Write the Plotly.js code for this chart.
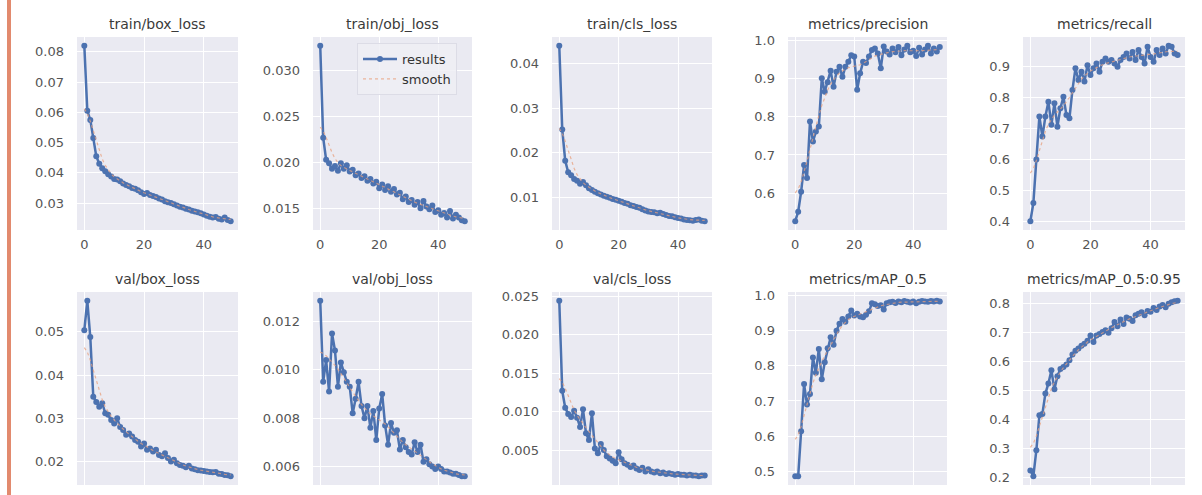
<!DOCTYPE html>
<html>
<head>
<meta charset="utf-8">
<script src="https://cdn.plot.ly/plotly-3.0.1.min.js"></script>
<style>html,body{margin:0;padding:0;background:#fff;}#chart{width:1202px;height:495px;}</style>
</head>
<body>
<div id="chart"></div>
<script>
// ---- data (epochs 0..49) ----
const epochs = Array.from({length: 50}, (_, i) => i);

const titles = ["train/box_loss","train/obj_loss","train/cls_loss","metrics/precision","metrics/recall",
                "val/box_loss","val/obj_loss","val/cls_loss","metrics/mAP_0.5","metrics/mAP_0.5:0.95"];

const trainBox = [0.0820,0.0605,0.0575,0.0515,0.0455,0.0430,0.0415,0.0405,0.0395,0.0388,0.0380,0.0378,0.0372,0.0365,0.0360,0.0356,0.0350,0.0347,0.0342,0.0336,0.0330,0.0333,0.0327,0.0323,0.0320,0.0315,0.0312,0.0306,0.0303,0.0300,0.0296,0.0292,0.0288,0.0285,0.0281,0.0279,0.0275,0.0272,0.0270,0.0266,0.0262,0.0258,0.0255,0.0252,0.0254,0.0248,0.0246,0.0252,0.0244,0.0240];

const trainObj = [0.0327,0.0227,0.0203,0.0199,0.0193,0.0196,0.0191,0.0199,0.0193,0.0197,0.0190,0.0192,0.0186,0.0188,0.0183,0.0185,0.0180,0.0182,0.0177,0.0179,0.0172,0.0176,0.0170,0.0174,0.0168,0.0171,0.0165,0.0167,0.0160,0.0163,0.0157,0.0159,0.0154,0.0157,0.0150,0.0158,0.0152,0.0149,0.0153,0.0146,0.0148,0.0143,0.0145,0.0140,0.0147,0.0139,0.0143,0.0140,0.0137,0.0136];

const trainCls = [0.0440,0.0252,0.0182,0.0156,0.0149,0.0141,0.0137,0.0130,0.0134,0.0127,0.0120,0.0116,0.0112,0.0109,0.0106,0.0103,0.0101,0.0099,0.0096,0.0094,0.0092,0.0090,0.0087,0.0085,0.0082,0.0080,0.0078,0.0076,0.0073,0.0070,0.0068,0.0067,0.0066,0.0064,0.0065,0.0062,0.0060,0.0058,0.0057,0.0055,0.0053,0.0052,0.0050,0.0049,0.0048,0.0047,0.0049,0.0050,0.0047,0.0046];

const precision = [0.527,0.552,0.604,0.674,0.640,0.787,0.735,0.761,0.774,0.900,0.865,0.890,0.920,0.878,0.917,0.930,0.904,0.930,0.943,0.960,0.957,0.870,0.913,0.943,0.940,0.957,0.974,0.978,0.965,0.926,0.983,0.970,0.962,0.978,0.968,0.982,0.960,0.975,0.985,0.968,0.972,0.958,0.980,0.962,0.975,0.985,0.965,0.978,0.970,0.982];

const recall = [0.400,0.459,0.600,0.739,0.674,0.739,0.787,0.712,0.782,0.706,0.766,0.803,0.744,0.733,0.825,0.895,0.857,0.884,0.852,0.905,0.873,0.895,0.911,0.884,0.916,0.927,0.916,0.922,0.911,0.900,0.922,0.932,0.943,0.927,0.948,0.922,0.954,0.932,0.911,0.965,0.932,0.916,0.954,0.938,0.959,0.943,0.968,0.965,0.943,0.938];

const valBox = [0.0504,0.0572,0.0488,0.0350,0.0338,0.0327,0.0335,0.0312,0.0308,0.0296,0.0288,0.0300,0.0280,0.0273,0.0262,0.0265,0.0258,0.0250,0.0246,0.0235,0.0242,0.0227,0.0230,0.0223,0.0227,0.0215,0.0212,0.0219,0.0208,0.0200,0.0204,0.0196,0.0192,0.0190,0.0187,0.0190,0.0184,0.0182,0.0180,0.0179,0.0178,0.0177,0.0176,0.0175,0.0176,0.0172,0.0171,0.0169,0.0168,0.0166];

const valObj = [0.01285,0.0095,0.0104,0.0091,0.0115,0.0108,0.0093,0.0103,0.0099,0.0095,0.0093,0.0082,0.0088,0.0095,0.0085,0.0080,0.0085,0.0076,0.0083,0.0071,0.0084,0.0090,0.0077,0.0069,0.0078,0.0074,0.0075,0.0067,0.0071,0.0068,0.0066,0.0065,0.0070,0.0066,0.0069,0.0062,0.0063,0.0061,0.0060,0.0059,0.0060,0.0059,0.0058,0.0058,0.00575,0.0057,0.0057,0.00565,0.0056,0.0056];

const valCls = [0.0244,0.0127,0.0105,0.0097,0.0093,0.0101,0.0092,0.0080,0.0103,0.0072,0.0063,0.0098,0.0052,0.0046,0.0058,0.0050,0.0042,0.0039,0.0036,0.0033,0.0047,0.0038,0.0033,0.0031,0.0028,0.0030,0.0026,0.0024,0.0027,0.0022,0.0025,0.0022,0.0021,0.0022,0.0020,0.0021,0.0019,0.0020,0.0019,0.0018,0.0019,0.0018,0.0018,0.0017,0.0018,0.0017,0.0017,0.0016,0.0017,0.0017];

const map50 = [0.486,0.486,0.614,0.748,0.690,0.720,0.824,0.780,0.848,0.762,0.810,0.850,0.881,0.860,0.900,0.920,0.933,0.925,0.940,0.957,0.943,0.948,0.940,0.938,0.945,0.955,0.978,0.975,0.970,0.972,0.960,0.978,0.981,0.982,0.979,0.983,0.981,0.984,0.982,0.980,0.983,0.978,0.982,0.984,0.983,0.982,0.984,0.983,0.985,0.983];

const map5095 = [0.225,0.205,0.295,0.415,0.420,0.490,0.525,0.570,0.505,0.550,0.575,0.582,0.590,0.605,0.625,0.638,0.645,0.655,0.662,0.672,0.690,0.668,0.690,0.695,0.702,0.708,0.700,0.715,0.737,0.722,0.745,0.730,0.752,0.748,0.740,0.760,0.765,0.770,0.760,0.775,0.772,0.785,0.778,0.790,0.795,0.788,0.800,0.805,0.808,0.810];

const series = [trainBox, trainObj, trainCls, precision, recall, valBox, valObj, valCls, map50, map5095];
const yTickFormat = [".2f",".3f",".2f",".1f",".1f",".2f",".3f",".3f",".1f",".1f"];
const yDtick = [0.01,0.005,0.01,0.1,0.1,0.01,0.002,0.005,0.1,0.1];

// gaussian_filter1d(sigma=3), reflect mode, as used for the "smooth" curve
function gaussSmooth(y, sigma) {
  const r = Math.floor(4 * sigma + 0.5);
  const w = [];
  let s = 0;
  for (let k = -r; k <= r; k++) { const v = Math.exp(-0.5 * k * k / (sigma * sigma)); w.push(v); s += v; }
  const n = y.length;
  return y.map((_, i) => {
    let acc = 0;
    for (let k = -r; k <= r; k++) {
      let j = i + k;
      while (j < 0 || j >= n) { if (j < 0) j = -j - 1; if (j >= n) j = 2 * n - j - 1; }
      acc += w[k + r] * y[j];
    }
    return acc / s;
  });
}

// ---- layout geometry (pixels) ----
const W = 1202, H = 495;
const colX = [[77,238],[313,472],[552,712],[788,947],[1023,1185]];
const rowY = [[37,230],[292,485]];

const traces = [];
const layout = {
  width: W, height: H,
  margin: {l: 0, r: 0, t: 0, b: 0},
  paper_bgcolor: "#ffffff",
  plot_bgcolor: "#EAEAF2",
  font: {family: "DejaVu Sans", color: "#444"},
  showlegend: true,
  legend: {
    x: 357 / W, y: 1 - 43 / H, xanchor: "left", yanchor: "top",
    bgcolor: "rgba(238,238,245,0.85)", bordercolor: "#dcdce6", borderwidth: 1,
    font: {family: "DejaVu Sans", size: 13, color: "#333"},
    itemwidth: 34, tracegroupgap: 0
  },
  annotations: [],
  shapes: [{
    type: "rect", xref: "paper", yref: "paper",
    x0: 7 / W, x1: 11 / W, y0: 0, y1: 1,
    fillcolor: "#e28a6e", line: {width: 0}, layer: "above"
  }]
};

for (let i = 0; i < 10; i++) {
  const row = Math.floor(i / 5), col = i % 5;
  const ax = i === 0 ? "" : String(i + 1);
  const y = series[i];
  const sm = gaussSmooth(y, 3);
  const lo = Math.min(...y, ...sm), hi = Math.max(...y, ...sm);
  const pad = 0.05 * (hi - lo);
  const xPad = 0.05 * (epochs[epochs.length - 1] - epochs[0]);

  traces.push({
    x: epochs, y: y, type: "scatter", mode: "lines+markers", name: "results",
    xaxis: "x" + ax, yaxis: "y" + ax,
    line: {color: "#4C72B0", width: 2.5},
    marker: {color: "#4C72B0", size: 6},
    showlegend: i === 1, hoverinfo: "skip"
  });
  traces.push({
    x: epochs, y: sm, type: "scatter", mode: "lines", name: "smooth",
    xaxis: "x" + ax, yaxis: "y" + ax,
    line: {color: "#E8A07E", width: 1.2, dash: "dot"},
    opacity: 0.75,
    showlegend: i === 1, hoverinfo: "skip"
  });

  const cx = colX[col], ry = rowY[row];
  layout["xaxis" + ax] = {
    domain: [cx[0] / W, cx[1] / W],
    anchor: "y" + ax,
    range: [epochs[0] - xPad, epochs[epochs.length - 1] + xPad],
    tickvals: [0, 20, 40],
    showticklabels: row === 0,
    showgrid: true, gridcolor: "#ffffff", gridwidth: 1,
    zeroline: false, showline: false, ticks: "",
    ticklabelstandoff: 5,
    tickfont: {family: "DejaVu Sans", size: 13, color: "#555"}
  };
  layout["yaxis" + ax] = {
    domain: [1 - ry[1] / H, 1 - ry[0] / H],
    anchor: "x" + ax,
    range: [lo - pad, hi + pad],
    tick0: 0, dtick: yDtick[i], tickformat: yTickFormat[i],
    showgrid: true, gridcolor: "#ffffff", gridwidth: 1,
    zeroline: false, showline: false, ticks: "",
    ticklabelstandoff: 12,
    tickfont: {family: "DejaVu Sans", size: 13, color: "#555"}
  };
  layout.annotations.push({
    text: titles[i], xref: "paper", yref: "paper",
    x: (cx[0] + cx[1]) / 2 / W, y: 1 - (ry[0] - 13) / H,
    xanchor: "center", yanchor: "middle", showarrow: false,
    font: {family: "DejaVu Sans", size: 14, color: "#3a3a3a"}
  });
}

Plotly.newPlot("chart", traces, layout, {displayModeBar: false, staticPlot: true});
</script>
</body>
</html>
